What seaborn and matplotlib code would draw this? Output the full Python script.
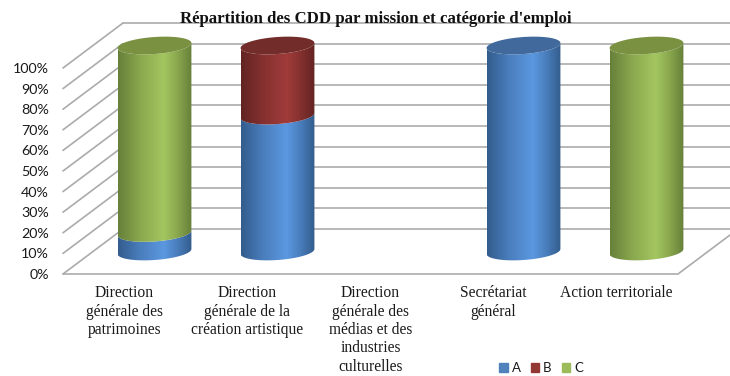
import numpy as np
import matplotlib
matplotlib.use("Agg")
import matplotlib.pyplot as plt
from matplotlib.colors import LinearSegmentedColormap
from matplotlib.patches import Patch, PathPatch, Polygon
from matplotlib.path import Path
from matplotlib.ticker import PercentFormatter
import seaborn as sns

title = "Répartition des CDD par mission et catégorie d'emploi"
categories = [
    "Direction\ngénérale des\npatrimoines",
    "Direction\ngénérale de la\ncréation artistique",
    "Direction\ngénérale des\nmédias et des\nindustries\nculturelles",
    "Secrétariat\ngénéral",
    "Action territoriale",
]
series_names = ["A", "B", "C"]
share_a = [0.09, 0.66, 0.0, 1.0, 0.0]
share_b = [0.0, 0.34, 0.0, 0.0, 0.0]
share_c = [0.91, 0.0, 0.0, 0.0, 1.0]
y_ticks = [0.0, 0.1, 0.2, 0.3, 0.4, 0.5, 0.6, 0.7, 0.8, 0.9, 1.0]

legend_colors = ["#4f81bd", "#953735", "#9bbb59"]
edge_colors = ["#335c8c", "#622422", "#66803a"]
mid_colors = ["#4a7ebd", "#853130", "#8aa84e"]
peak_colors = ["#5b98e0", "#a03c3a", "#a4c660"]
cap_colors = ["#41699c", "#722c2a", "#7a9142"]

sns.set_theme(style="white")
W, H = 730, 376
fig = plt.figure(figsize=(W / 100, H / 100), dpi=100, facecolor="white")
ax = fig.add_axes([63 / W, (H - 274) / H, 615 / W, 206 / H])
ax.patch.set_visible(False)

# Oblique projection: how far one unit of depth shifts a point, in data units
DX, DY = 60 / 123, 45 / 206
EB, ET = 8.5 / 206, 2.5 / 206     # ellipse half-height and tilt
GRID = "#ababab"

# Stacked bars through seaborn, then re-skinned as cylinders
bottom = np.zeros(len(categories))
groups = []
for vals, col in zip([share_a, share_b, share_c], legend_colors):
    before = len(ax.patches)
    sns.barplot(x=categories, y=vals, bottom=bottom, color=col, width=0.6,
                errorbar=None, ax=ax, order=categories)
    groups.append(ax.patches[before:])
    bottom = bottom + np.array(vals)

xlim = (-0.5, 4.5)
ylim = (0, 1)


def front_arc(xc, a, y, n=60):
    t = np.linspace(np.pi, 2 * np.pi, n)      # left to right along the front
    return np.c_[xc + a * np.cos(t), y + ET * np.cos(t) + EB * np.sin(t)]


for i, bars in enumerate(groups):
    cmap = LinearSegmentedColormap.from_list(
        "c", [(0, edge_colors[i]), (0.3, mid_colors[i]), (0.62, peak_colors[i]),
              (0.8, mid_colors[i]), (1, edge_colors[i])])
    for rect in bars:
        h = rect.get_height()
        rect.set_visible(False)
        if h <= 0:
            continue
        x0, w, y0 = rect.get_x(), rect.get_width(), rect.get_y()
        xc = x0 + w / 2 + DX / 2
        a = w / 2
        base = y0 + DY / 2
        low = front_arc(xc, a, base)
        up = front_arc(xc, a, base + h)[::-1]
        verts = np.vstack([low, up, low[:1]])
        clip = PathPatch(Path(verts), transform=ax.transData, fc="none", ec="none",
                         clip_on=False)
        ax.add_patch(clip)
        im = ax.imshow(np.linspace(0, 1, 256)[None, :], cmap=cmap, aspect="auto",
                       extent=(xc - a, xc + a, base - 0.06, base + h + 0.06),
                       zorder=3, interpolation="bilinear")
        im.set_clip_path(clip)
        im.set_clip_box(fig.bbox)
        if abs(y0 + h - 1) < 1e-6:
            t = np.linspace(0, 2 * np.pi, 120)
            cap = np.c_[xc + a * np.cos(t),
                        base + h + ET * np.cos(t) + EB * np.sin(t)]
            ax.add_patch(Polygon(cap, closed=True, fc=cap_colors[i], ec="none",
                                 zorder=4, clip_on=False))

# Walls and floor
for v in y_ticks:
    ax.plot([-0.5, -0.5 + DX], [v, v + DY], color=GRID, lw=1.2, zorder=1, clip_on=False)
    ax.plot([-0.5 + DX, 4.5 + DX], [v + DY, v + DY], color=GRID, lw=1.2, zorder=1, clip_on=False)
ax.plot([-0.5, 4.5, 4.5 + DX], [0, 0, DY], color=GRID, lw=1.2, zorder=1, clip_on=False)

ax.set_xlim(*xlim)
ax.set_ylim(*ylim)
ax.set_yticks(y_ticks)
ax.yaxis.set_major_formatter(PercentFormatter(1.0, decimals=0))
ax.set_xticks(range(len(categories)))
ax.set_xticklabels(categories, family="Liberation Serif", fontsize=11.2,
                   color="#1a1a1a", linespacing=1.2)
for lab in ax.get_yticklabels():
    lab.set_family("Lato")
    lab.set_fontsize(10.3)
    lab.set_color("#1a1a1a")
ax.tick_params(axis="y", length=0, pad=10)
ax.tick_params(axis="x", length=0, pad=8)
ax.set_ylabel("")
ax.set_xlabel("")
sns.despine(ax=ax, left=True, bottom=True)

ax.set_title(title, x=0.509, y=1.218, family="Liberation Serif", fontweight="bold",
             fontsize=12.05, color="#111111", pad=0, zorder=6)

handles = [Patch(color=c, label=n) for c, n in zip(legend_colors, series_names)]
ax.legend(handles=handles, ncol=3, frameon=False, loc="center left",
          bbox_to_anchor=((494 - 63) / 615, -94 / 206), borderaxespad=0, borderpad=0.4,
          prop={"family": "Lato", "size": 9.5}, handlelength=0.65, handleheight=0.65,
          handletextpad=0.3, columnspacing=0.75, labelcolor="#1a1a1a")

fig.savefig("out.png", dpi=100, facecolor="white")
